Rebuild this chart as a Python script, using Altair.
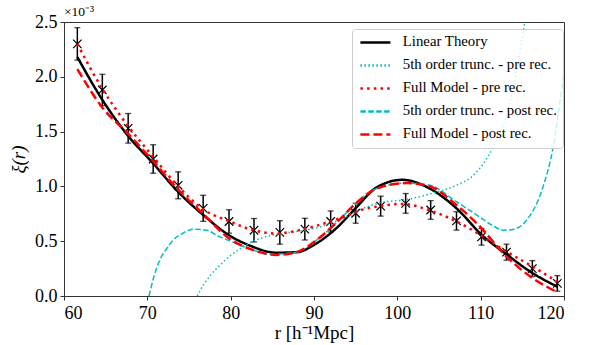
import altair as alt
import pandas as pd

# ---- measured data points (xi in units of 1e-3) ----
r_data = [61.6, 64.6, 67.7, 70.7, 73.7, 76.7, 79.8, 82.8, 85.9, 88.9,
          92.0, 95.0, 98.0, 101.0, 104.0, 107.1, 110.1, 113.1, 116.2, 119.2]
xi_data = [2.30, 1.88, 1.53, 1.25, 1.01, 0.80, 0.68, 0.60, 0.58, 0.61,
           0.68, 0.755, 0.82, 0.845, 0.785, 0.685, 0.54, 0.40, 0.25, 0.115]
xi_err = [0.148, 0.143, 0.135, 0.13, 0.123, 0.119, 0.107, 0.107, 0.107, 0.099,
          0.096, 0.091, 0.091, 0.09, 0.085, 0.084, 0.076, 0.073, 0.073, 0.071]

# ---- model curves ----
lin_r = [61.6, 64.6, 67.6, 70.7, 73.7, 76.7, 79.9, 82.3, 85.5, 87.9, 90.3,
         92.7, 95.1, 97.5, 100.6, 103.9, 107.1, 110.1, 113.1, 116.2, 119.2]
lin_xi = [2.18, 1.79, 1.47, 1.21, 0.95, 0.74, 0.55, 0.46, 0.395, 0.40, 0.48,
          0.62, 0.81, 0.99, 1.06, 0.98, 0.80, 0.56, 0.38, 0.21, 0.085]

t5pre_r = [76.0, 76.4, 77.0, 77.7, 78.7, 80.0, 81.3, 83.0, 84.7, 86.5, 88.5,
           90.7, 93.5, 95.3, 97.9, 101.1, 104.3, 107.1, 109.1, 111.5, 113.5, 115.3]
t5pre_xi = [0.0, 0.06, 0.13, 0.20, 0.28, 0.37, 0.44, 0.51, 0.55, 0.575, 0.595,
            0.63, 0.71, 0.78, 0.85, 0.88, 0.94, 1.01, 1.10, 1.36, 1.76, 2.5]

fpre_r = [61.6, 64.6, 67.7, 70.7, 73.7, 76.7, 79.9, 82.3, 85.5, 87.9, 90.7,
          93.5, 95.5, 97.9, 100.5, 104.3, 107.1, 109.7, 113.1, 116.2, 119.2]
fpre_xi = [2.30, 1.89, 1.55, 1.27, 1.00, 0.79, 0.68, 0.61, 0.57, 0.595, 0.65,
           0.72, 0.78, 0.82, 0.84, 0.77, 0.68, 0.57, 0.405, 0.27, 0.13]

t5post_r = [70.2, 70.8, 71.5, 72.3, 73.1, 74.2, 75.5, 77.1, 78.7, 80.0, 82.3,
            84.7, 87.9, 90.3, 92.7, 95.1, 97.5, 101.0, 103.9, 107.1, 109.9,
            111.5, 112.7, 114.0, 115.5, 117.5, 118.7, 119.5, 120.0]
t5post_xi = [0.0, 0.18, 0.33, 0.43, 0.51, 0.57, 0.61, 0.60, 0.54, 0.50, 0.43,
             0.38, 0.40, 0.51, 0.67, 0.85, 0.98, 1.03, 1.01, 0.86, 0.72,
             0.64, 0.60, 0.61, 0.69, 1.0, 1.36, 1.76, 2.05]

fpost_r = [61.6, 64.6, 67.7, 70.7, 73.7, 76.7, 79.9, 82.3, 85.5, 87.9, 90.3,
           92.7, 95.1, 97.5, 101.0, 103.9, 107.1, 109.7, 113.1, 116.2, 119.2]
fpost_xi = [2.07, 1.72, 1.48, 1.23, 0.97, 0.75, 0.52, 0.43, 0.375, 0.40, 0.51,
            0.67, 0.85, 0.98, 1.03, 1.00, 0.83, 0.65, 0.36, 0.165, 0.035]

labels = ["Linear Theory", "5th order trunc. - pre rec.", "Full Model - pre rec.",
          "5th order trunc. - post rec.", "Full Model - post rec."]
colors = ["#000000", "#00bfbf", "#ff0000", "#00bfbf", "#ff0000"]
dashes = [[1, 0], [1.5, 2.5], [2.5, 4.2], [5.5, 2.4], [9, 4]]
widths = [2.5, 1.5, 2.5, 1.5, 2.5]
exponent_label = ["×10⁻³"]

series = [(lin_r, lin_xi), (t5pre_r, t5pre_xi), (fpre_r, fpre_xi),
          (t5post_r, t5post_xi), (fpost_r, fpost_xi)]
frames = []
for lab, w, (rr, vv) in zip(labels, widths, series):
    frames.append(pd.DataFrame({"r": rr, "xi": vv, "series": lab, "lw": w}))
curves = pd.concat(frames, ignore_index=True)

pts = pd.DataFrame({"r": r_data, "xi": xi_data, "err": xi_err})
pts["lo"] = pts["xi"] - pts["err"]
pts["hi"] = pts["xi"] + pts["err"]

FONT = "Liberation Serif"
x_axis = alt.Axis(values=[60, 70, 80, 90, 100, 110, 120], title="r [h⁻¹Mpc]",
                  grid=False, labelPadding=4, titlePadding=1)
y_axis = alt.Axis(values=[0, 0.5, 1.0, 1.5, 2.0, 2.5], format=".1f", title="ξ(r)",
                  grid=False, titleFontStyle="italic", labelPadding=3, titlePadding=6)
xs = alt.Scale(domain=[60, 120], nice=False, zero=False)
ys = alt.Scale(domain=[0, 2.5], nice=False, zero=False)

legend = alt.Legend(title=None, orient="none", legendX=288, legendY=7,
                    symbolType="M-1,0H5", symbolSize=100, labelOffset=30,
                    labelFont=FONT, labelFontSize=14.8, labelColor="black",
                    rowPadding=7, padding=6, fillColor="rgba(255,255,255,0.8)",
                    strokeColor="#cccccc", cornerRadius=3, symbolStrokeWidth=2.5,
                    labelLimit=400)

rules = alt.Chart(pts).mark_rule(color="black", strokeWidth=1.5).encode(
    x=alt.X("r:Q", scale=xs, axis=x_axis),
    y=alt.Y("lo:Q", scale=ys, axis=y_axis),
    y2="hi:Q")
caps_lo = alt.Chart(pts).mark_tick(color="black", orient="horizontal", size=6,
                                   thickness=1.3).encode(
    x=alt.X("r:Q", scale=xs, axis=x_axis), y=alt.Y("lo:Q", scale=ys, axis=y_axis))
caps_hi = alt.Chart(pts).mark_tick(color="black", orient="horizontal", size=6,
                                   thickness=1.3).encode(
    x=alt.X("r:Q", scale=xs, axis=x_axis), y=alt.Y("hi:Q", scale=ys, axis=y_axis))
crosses = alt.Chart(pts).mark_point(shape="M-1,-1L1,1M1,-1L-1,1", size=72,
                                    filled=False, color="black", strokeWidth=1.2,
                                    opacity=1).encode(
    x=alt.X("r:Q", scale=xs, axis=x_axis), y=alt.Y("xi:Q", scale=ys, axis=y_axis))

lines = alt.Chart(curves).mark_line(interpolate="monotone", clip=True).encode(
    x=alt.X("r:Q", scale=xs, axis=x_axis),
    y=alt.Y("xi:Q", scale=ys, axis=y_axis),
    color=alt.Color("series:N", scale=alt.Scale(domain=labels, range=colors),
                    legend=legend, sort=labels),
    strokeDash=alt.StrokeDash("series:N", scale=alt.Scale(domain=labels, range=dashes),
                              legend=legend, sort=labels),
    strokeWidth=alt.StrokeWidth("lw:Q", scale=None),
    detail="series:N")

expo = alt.Chart(pd.DataFrame({"t": exponent_label})).mark_text(
    align="left", baseline="bottom", font=FONT, fontSize=13.5, color="black").encode(
    text="t:N", x=alt.value(0), y=alt.value(-3))

chart = alt.layer(rules, caps_lo, caps_hi, crosses, lines, expo).properties(
    width=500, height=274, autosize="none",
    padding={"left": 64, "top": 22, "right": 25, "bottom": 49},
).configure_view(stroke="#333333", strokeWidth=1).configure_axis(
    labelFont=FONT, labelFontSize=18, labelColor="black",
    titleFont=FONT, titleFontSize=19, titleFontWeight="normal", titleColor="black",
    domainColor="#333333", tickColor="#333333", tickSize=4, domainWidth=1,
).configure_legend(labelFont=FONT)

chart.save("out.html", embed_options={"renderer": "svg", "actions": False})
